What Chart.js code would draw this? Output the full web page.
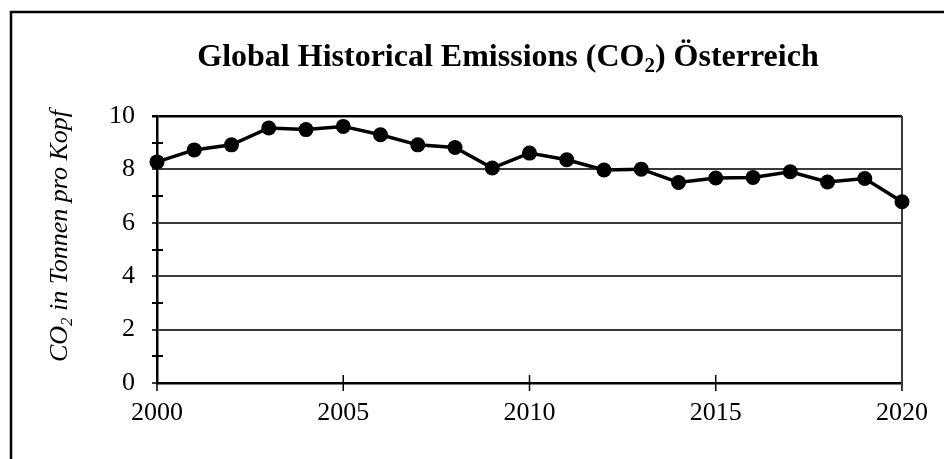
<!DOCTYPE html>
<html>
<head>
<meta charset="utf-8">
<script src="https://cdn.jsdelivr.net/npm/chart.js@4.4.1/dist/chart.umd.min.js"></script>
<style>
  html, body { margin: 0; padding: 0; background: #ffffff; }
  #wrap { width: 944px; height: 459px; position: relative; }
</style>
</head>
<body>
<div id="wrap"><canvas id="chart" width="944" height="459"></canvas></div>
<script>
// Per-capita CO2 emissions for Austria, tonnes per person
const years = [2000, 2001, 2002, 2003, 2004, 2005, 2006, 2007, 2008, 2009, 2010,
               2011, 2012, 2013, 2014, 2015, 2016, 2017, 2018, 2019, 2020];
const emissions = [8.28, 8.73, 8.92, 9.55, 9.49, 9.61, 9.30, 8.92, 8.82, 8.05, 8.61,
                   8.36, 7.98, 8.01, 7.51, 7.68, 7.70, 7.91, 7.53, 7.66, 6.79];
const yearTicks = [2000, 2005, 2010, 2015, 2020];
const minorValues = [1, 3, 5, 7, 9];

const titleParts = { before: 'Global Historical Emissions (CO', sub: '2', after: ') Österreich' };
const axisTitleParts = { before: 'CO', sub: '2', after: ' in Tonnen pro Kopf' };

const SERIF = '"Liberation Serif", "Times New Roman", serif';

// Draws a run of text with a lowered, smaller subscript in the middle
function drawSubText(ctx, parts, x, y, size, style) {
  ctx.textBaseline = 'alphabetic';
  ctx.textAlign = 'left';
  ctx.font = style + ' ' + size + 'px ' + SERIF;
  let cx = x;
  ctx.fillText(parts.before, cx, y);
  cx += ctx.measureText(parts.before).width;
  const subSize = Math.round(size * 0.66);
  ctx.font = style + ' ' + subSize + 'px ' + SERIF;
  ctx.fillText(parts.sub, cx, y + size * 0.2);
  cx += ctx.measureText(parts.sub).width;
  ctx.font = style + ' ' + size + 'px ' + SERIF;
  ctx.fillText(parts.after, cx, y);
}

function measureSubText(ctx, parts, size, style) {
  ctx.font = style + ' ' + size + 'px ' + SERIF;
  let w = ctx.measureText(parts.before).width + ctx.measureText(parts.after).width;
  ctx.font = style + ' ' + Math.round(size * 0.66) + 'px ' + SERIF;
  w += ctx.measureText(parts.sub).width;
  return w;
}

const decorations = {
  id: 'decorations',
  beforeDraw(chart) {
    const ctx = chart.ctx;
    ctx.save();
    ctx.fillStyle = '#ffffff';
    ctx.fillRect(0, 0, chart.width, chart.height);
    // outer frame (top and left edges)
    ctx.strokeStyle = '#000000';
    ctx.lineWidth = 2.5;
    ctx.beginPath();
    ctx.moveTo(11, chart.height + 2);
    ctx.lineTo(11, 12);
    ctx.lineTo(chart.width + 2, 12);
    ctx.stroke();
    ctx.restore();
  },
  beforeDatasetsDraw(chart) {
    const ctx = chart.ctx;
    const xs = chart.scales.x;
    const ys = chart.scales.y;
    const area = chart.chartArea;
    ctx.save();
    ctx.strokeStyle = '#000000';
    // minor ticks crossing the value axis
    ctx.lineWidth = 2;
    minorValues.forEach(v => {
      const py = Math.round(ys.getPixelForValue(v));
      ctx.beginPath();
      ctx.moveTo(area.left - 5, py);
      ctx.lineTo(area.left + 6, py);
      ctx.stroke();
    });
    // year ticks crossing the category axis
    ctx.lineWidth = 1.5;
    yearTicks.forEach(v => {
      const px = xs.getPixelForValue(v);
      ctx.beginPath();
      ctx.moveTo(px, area.bottom - 8);
      ctx.lineTo(px, area.bottom + 8);
      ctx.stroke();
    });
    // right edge of the plot
    ctx.strokeStyle = '#3a3a3a';
    ctx.lineWidth = 2;
    const rx = xs.getPixelForValue(2020);
    ctx.beginPath();
    ctx.moveTo(rx, area.top);
    ctx.lineTo(rx, area.bottom + 8);
    ctx.stroke();
    ctx.restore();
  },
  afterDraw(chart) {
    const ctx = chart.ctx;
    ctx.save();
    ctx.fillStyle = '#000000';
    // chart title
    const tSize = 32;
    const tw = measureSubText(ctx, titleParts, tSize, 'bold');
    drawSubText(ctx, titleParts, 508 - tw / 2, 66, tSize, 'bold');
    // value axis title, rotated
    const aSize = 26;
    const aw = measureSubText(ctx, axisTitleParts, aSize, 'italic');
    ctx.translate(67, 236);
    ctx.rotate(-Math.PI / 2);
    drawSubText(ctx, axisTitleParts, -aw / 2, 0, aSize, 'italic');
    ctx.restore();
  }
};

new Chart(document.getElementById('chart'), {
  type: 'line',
  data: {
    datasets: [{
      data: years.map((y, i) => ({ x: y, y: emissions[i] })),
      borderColor: '#000000',
      backgroundColor: '#000000',
      borderWidth: 3.5,
      pointRadius: 7.5,
      pointBackgroundColor: '#000000',
      pointBorderColor: '#000000',
      pointBorderWidth: 0,
      tension: 0,
      clip: false
    }]
  },
  options: {
    responsive: false,
    animation: false,
    events: [],
    layout: { padding: { left: 0, right: 42, top: 116, bottom: 0 } },
    plugins: {
      legend: { display: false },
      title: { display: false },
      tooltip: { enabled: false }
    },
    scales: {
      x: {
        type: 'linear',
        min: 2000,
        max: 2020,
        afterFit(scale) { scale.height = 76; },
        afterBuildTicks(scale) { scale.ticks = yearTicks.map(v => ({ value: v })); },
        ticks: {
          color: '#000000',
          font: { family: SERIF, size: 26 },
          padding: 7,
          maxRotation: 0,
          autoSkip: false,
          callback: v => String(v)
        },
        grid: { display: true, drawOnChartArea: false, drawTicks: true, tickLength: 8, color: 'rgba(0,0,0,0)' },
        border: { display: true, color: '#000000', width: 2.5 }
      },
      y: {
        min: 0,
        max: 10,
        afterFit(scale) { scale.width = 157; },
        ticks: {
          stepSize: 2,
          color: '#000000',
          font: { family: SERIF, size: 26 },
          padding: 17
        },
        grid: {
          drawTicks: true,
          tickLength: 5,
          color: ctx => (ctx.tick && ctx.tick.value === 10) ? '#000000' : '#3a3a3a',
          lineWidth: ctx => (ctx.tick && ctx.tick.value === 10) ? 2.5 : 2
        },
        border: { display: true, color: '#000000', width: 2.5 }
      }
    }
  },
  plugins: [decorations]
});
</script>
</body>
</html>
